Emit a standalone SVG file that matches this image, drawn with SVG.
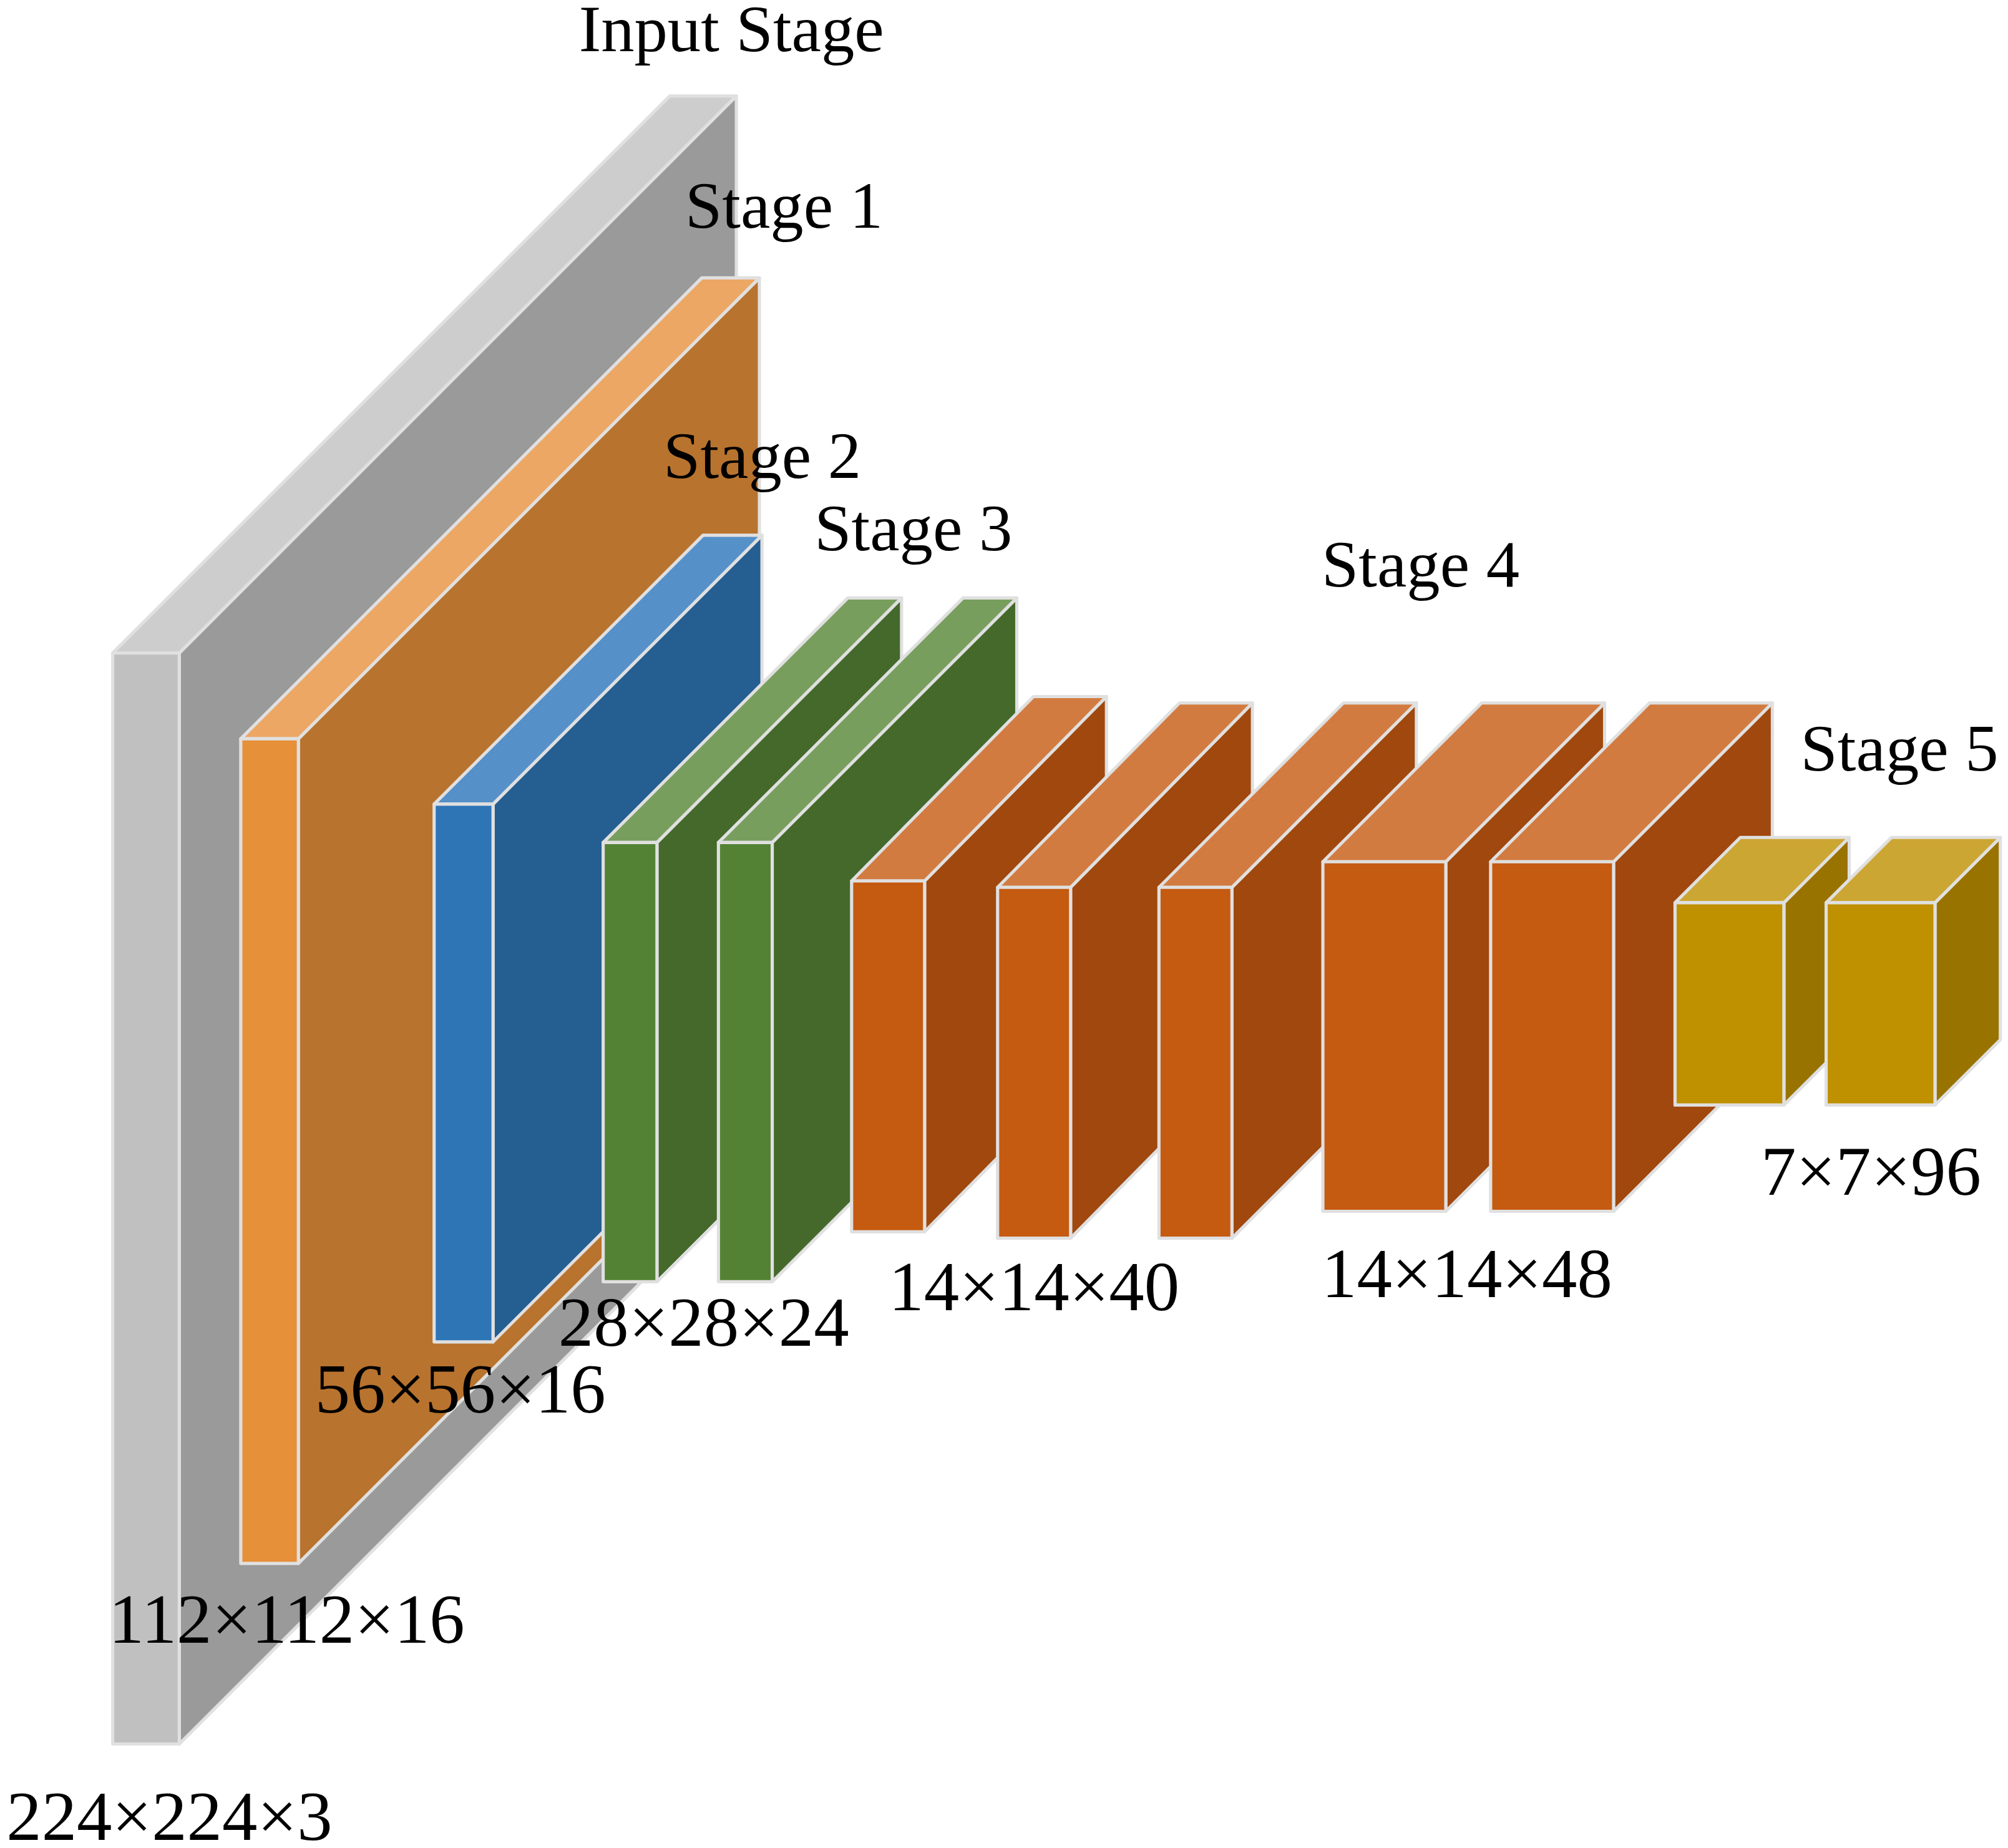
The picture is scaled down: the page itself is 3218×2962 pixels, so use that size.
<svg xmlns="http://www.w3.org/2000/svg" width="3218" height="2962" viewBox="0 0 3218 2962">
<style>
polygon,rect{stroke:#e0e0e0;stroke-width:2.5;stroke-linejoin:round}
text{font-family:"Liberation Serif","Times New Roman",serif;font-size:52px;fill:#000}
text.d{font-size:55px}
.g1{fill:#c0c0c0}.g2{fill:#cdcdcd}.g3{fill:#9a9a9a}
.o1{fill:#e6903a}.o2{fill:#eca764}.o3{fill:#b8732e}
.b1{fill:#2e75b6}.b2{fill:#5590c8}.b3{fill:#255e91}
.n1{fill:#548235}.n2{fill:#789e5e}.n3{fill:#44692b}
.r1{fill:#c55a11}.r2{fill:#d27b41}.r3{fill:#a0480e}
.y1{fill:#bf9000}.y2{fill:#cca633}.y3{fill:#997300}
</style>
<rect width="3218" height="2962" fill="#fff" style="stroke:none"/>
<g transform="scale(2.0523)">
<g id="input"><polygon class="g3" points="140,510 575,75 575,927 140,1362"/><polygon class="g2" points="88,510 523,75 575,75 140,510"/><rect class="g1" x="88" y="510" width="52" height="852"/></g>
<g id="stage1"><polygon class="o3" points="233,577 593,217 593,861 233,1221"/><polygon class="o2" points="188,577 548,217 593,217 233,577"/><rect class="o1" x="188" y="577" width="45" height="644"/></g>
<g id="stage2"><polygon class="b3" points="385,628 595,418 595,838 385,1048"/><polygon class="b2" points="339,628 549,418 595,418 385,628"/><rect class="b1" x="339" y="628" width="46" height="420"/></g>
<g id="stage3a"><polygon class="n3" points="513,658 704,467 704,810 513,1001"/><polygon class="n2" points="471,658 662,467 704,467 513,658"/><rect class="n1" x="471" y="658" width="42" height="343"/></g>
<g id="stage3b"><polygon class="n3" points="603,658 794,467 794,810 603,1001"/><polygon class="n2" points="561,658 752,467 794,467 603,658"/><rect class="n1" x="561" y="658" width="42" height="343"/></g>
<g id="stage4a"><polygon class="r3" points="722,688 864,544 864,818 722,962"/><polygon class="r2" points="665,688 807,544 864,544 722,688"/><rect class="r1" x="665" y="688" width="57" height="274"/></g>
<g id="stage4b"><polygon class="r3" points="836,693 978,549 978,823 836,967"/><polygon class="r2" points="779,693 921,549 978,549 836,693"/><rect class="r1" x="779" y="693" width="57" height="274"/></g>
<g id="stage4c"><polygon class="r3" points="962,693 1106,549 1106,823 962,967"/><polygon class="r2" points="905,693 1049,549 1106,549 962,693"/><rect class="r1" x="905" y="693" width="57" height="274"/></g>
<g id="stage4d"><polygon class="r3" points="1129,673 1253,549 1253,822 1129,946"/><polygon class="r2" points="1033,673 1157,549 1253,549 1129,673"/><rect class="r1" x="1033" y="673" width="96" height="273"/></g>
<g id="stage4e"><polygon class="r3" points="1260,673 1384,549 1384,822 1260,946"/><polygon class="r2" points="1164,673 1288,549 1384,549 1260,673"/><rect class="r1" x="1164" y="673" width="96" height="273"/></g>
<g id="stage5a"><polygon class="y3" points="1393,705 1444,654 1444,812 1393,863"/><polygon class="y2" points="1308,705 1359,654 1444,654 1393,705"/><rect class="y1" x="1308" y="705" width="85" height="158"/></g>
<g id="stage5b"><polygon class="y3" points="1511,705 1562,654 1562,812 1511,863"/><polygon class="y2" points="1426,705 1477,654 1562,654 1511,705"/><rect class="y1" x="1426" y="705" width="85" height="158"/></g>
<g id="labels">
<text x="452" y="40">Input Stage</text>
<text x="535" y="178">Stage 1</text>
<text x="518" y="373">Stage 2</text>
<text x="636" y="430">Stage 3</text>
<text x="1032" y="458">Stage 4</text>
<text x="1406" y="602">Stage 5</text>
<text class="d" x="5" y="1437">224×224×3</text>
<text class="d" x="85" y="1283">112×112×16</text>
<text class="d" x="246" y="1103">56×56×16</text>
<text class="d" x="436" y="1051">28×28×24</text>
<text class="d" x="694" y="1023">14×14×40</text>
<text class="d" x="1032" y="1013">14×14×48</text>
<text class="d" x="1375" y="933">7×7×96</text>
</g>
</g>
</svg>
